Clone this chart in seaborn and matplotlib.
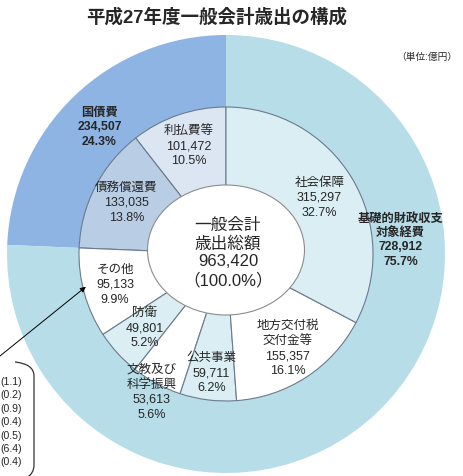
import matplotlib
matplotlib.use("Agg")
import numpy as np
import matplotlib.pyplot as plt
import seaborn as sns
from matplotlib.patches import Ellipse, FancyArrowPatch, PathPatch
from matplotlib.path import Path

# outer ring (億円), counter-clockwise from 12 o'clock
outer_labels = ['国債費', '基礎的財政収支\n対象経費']
outer_values = [234507, 728912]
outer_pct = [24.3, 75.7]

# inner ring, counter-clockwise from 12 o'clock
inner_labels = ['利払費等', '債務償還費', 'その他', '防衛', '文教及び\n科学振興',
                '公共事業', '地方交付税\n交付金等', '社会保障']
inner_values = [101472, 133035, 95133, 49801, 53613, 59711, 155357, 315297]
inner_pct = [10.5, 13.8, 9.9, 5.2, 5.6, 6.2, 16.1, 32.7]

total_value = 963420
sonota_detail = [1.1, 0.2, 0.9, 0.4, 0.5, 6.4, 0.4]

outer_colors = ['#8EB4E3', '#B7DDE8']
inner_colors = ['#DCE6F2', '#B9CDE5', '#FFFFFF', '#DAEEF3', '#FFFFFF',
                '#DAEEF3', '#FFFFFF', '#DAEEF3']

sns.set_theme(style='white')
plt.rcParams['font.family'] = ['Liberation Sans', 'Noto Sans CJK JP', 'DejaVu Sans']

W, H = 463, 476
fig = plt.figure(figsize=(W / 100, H / 100), dpi=100)
ax = fig.add_axes([0, 0, 1, 1])

def py(y):
    return H - y

cx, cy = 226, py(254)
r_out, r_in = 219, 147

ax.pie(outer_values, radius=r_out, center=(cx, cy), startangle=90,
       colors=outer_colors, wedgeprops=dict(linewidth=0))
wedges, _ = ax.pie(inner_values, radius=r_in, center=(cx, cy), startangle=90,
                   colors=inner_colors,
                   wedgeprops=dict(linewidth=0.8, edgecolor='#6B7B8C'))

ax.add_patch(Ellipse((226, py(250)), 157, 130, facecolor='white',
                     edgecolor='#8C8C8C', linewidth=0.8, zorder=5))

# inner labels at wedge mid-angle
lab_r = [114, 112, 115, 110, 157, 120, 113, 109]
for w, lab, v, p, r in zip(wedges, inner_labels, inner_values, inner_pct, lab_r):
    th = np.deg2rad((w.theta1 + w.theta2) / 2)
    ax.text(cx + r * np.cos(th), cy + r * np.sin(th), f'{lab}\n{v:,}\n{p}%',
            ha='center', va='center', fontsize=9, linespacing=1.33, zorder=6)

# outer labels
out_ang = [135, 4.6]
out_r = [179, 175]
for lab, v, p, a, r in zip(outer_labels, outer_values, outer_pct, out_ang, out_r):
    th = np.deg2rad(a)
    ax.text(cx + r * np.cos(th), cy + r * np.sin(th), f'{lab}\n{v:,}\n{p}%',
            ha='center', va='center', fontsize=8.8, fontweight='bold',
            linespacing=1.27, zorder=6)

ax.text(228, py(253), f'一般会計\n歳出総額\n{total_value:,}\n（100.0%）',
        ha='center', va='center', fontsize=12, linespacing=1.25, zorder=6)

ax.text(217, py(17), '平成27年度一般会計歳出の構成', ha='center', va='center',
        fontsize=13.3, fontweight='bold')
ax.text(457, py(57), '（単位:億円）', ha='right', va='center', fontsize=7)

# その他 breakdown
arrow = FancyArrowPatch((-5, py(360)), (88, py(285)), arrowstyle='-|>',
                        mutation_scale=8, linewidth=0.7, color='black', zorder=7)
ax.add_patch(arrow)
for i, v in enumerate(sonota_detail):
    ax.text(0, py(382 + i * 13.4), f'({v})', ha='left', va='center', fontsize=7.6)
verts = [(15, py(362)), (34, py(364)), (34, py(376)), (34, py(465)),
         (34, py(474)), (26, py(478))]
codes = [Path.MOVETO, Path.CURVE3, Path.CURVE3, Path.LINETO, Path.CURVE3, Path.CURVE3]
ax.add_patch(PathPatch(Path(verts, codes), facecolor='none', edgecolor='#333333',
                       linewidth=0.9))

ax.set_xlim(0, W)
ax.set_ylim(0, H)
ax.set_aspect('equal')
ax.axis('off')
fig.savefig('out.png', dpi=100)
